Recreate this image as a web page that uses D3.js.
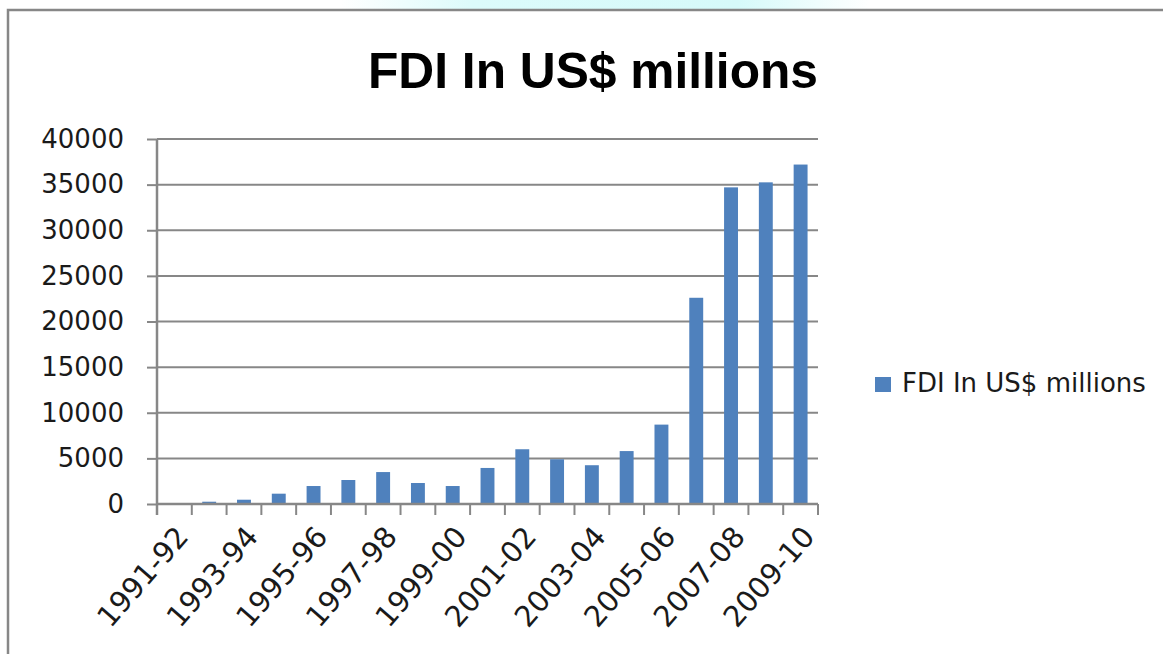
<!DOCTYPE html>
<html>
<head>
<meta charset="utf-8">
<script src="https://cdn.jsdelivr.net/npm/d3@7"></script>
<style>
  body { margin: 0; background: #fff; }
  svg { display: block; }
</style>
</head>
<body>
<script>
// Size of the page and plot area
const w = 1163;
const h = 654;
const plotLeft = 157, plotRight = 818, plotTop = 139, plotBottom = 504;

// Data
const years = [
  "1991-92", "1992-93", "1993-94", "1994-95", "1995-96", "1996-97", "1997-98",
  "1998-99", "1999-00", "2000-01", "2001-02", "2002-03", "2003-04", "2004-05",
  "2005-06", "2006-07", "2007-08", "2008-09", "2009-10",
];
const fdi = [
  100, 250, 470, 1130, 1970, 2630, 3500, 2300, 1970, 3950,
  6000, 4900, 4250, 5800, 8700, 22600, 34700, 35250, 37200,
];
const yTicks = [0, 5000, 10000, 15000, 20000, 25000, 30000, 35000, 40000];
const shownYears = years.filter((d, i) => i % 2 === 0);

const grey = "#878787";
const blue = "#4f81bd";

const svg = d3.select("body").append("svg").attr("width", w).attr("height", h);

// faint cyan strip above the frame
const grad = svg.append("defs").append("linearGradient").attr("id", "strip");
grad.append("stop").attr("offset", "0%").attr("stop-color", "#ffffff");
grad.append("stop").attr("offset", "25%").attr("stop-color", "#dcfbfb");
grad.append("stop").attr("offset", "75%").attr("stop-color", "#d6fafa");
grad.append("stop").attr("offset", "100%").attr("stop-color", "#ffffff");
svg.append("rect").attr("x", 340).attr("y", 0).attr("width", 530).attr("height", 9)
  .attr("fill", "url(#strip)");

// chart frame (top and left edges only visible)
svg.append("path")
  .attr("d", "M8,654 V10 H1163")
  .attr("fill", "none").attr("stroke", grey).attr("stroke-width", 2.5);

// Title
svg.append("text")
  .attr("x", 593).attr("y", 88)
  .attr("text-anchor", "middle")
  .attr("font-family", "Liberation Sans, Arial, sans-serif")
  .attr("font-weight", "bold")
  .attr("font-size", 50)
  .attr("textLength", 450)
  .attr("lengthAdjust", "spacingAndGlyphs")
  .attr("fill", "#000")
  .text("FDI In US$ millions");

// Scales
const x = d3.scaleBand().domain(years).range([plotLeft, plotRight])
  .paddingInner(0.6).paddingOuter(0.3);
const y = d3.scaleLinear().domain([0, 40000]).range([plotBottom, plotTop]);

// grid lines
svg.append("g")
  .selectAll("line")
  .data(yTicks.slice(1))
  .enter()
  .append("line")
  .attr("x1", plotLeft).attr("x2", plotRight)
  .attr("y1", d => y(d)).attr("y2", d => y(d))
  .attr("stroke", grey).attr("stroke-width", 2);

// y axis
const yAxis = svg.append("g")
  .attr("transform", `translate(${plotLeft},0)`)
  .call(d3.axisLeft(y).tickValues(yTicks).tickSize(10).tickPadding(23)
    .tickFormat(d3.format("d")));
yAxis.select(".domain").remove();
yAxis.selectAll(".tick line").attr("stroke", grey).attr("stroke-width", 2);
yAxis.selectAll("text")
  .attr("font-family", "DejaVu Sans, Verdana, sans-serif")
  .attr("font-size", 26)
  .attr("fill", "#1a1a1a");
svg.append("line")
  .attr("x1", plotLeft).attr("x2", plotLeft).attr("y1", plotTop).attr("y2", plotBottom + 11)
  .attr("stroke", grey).attr("stroke-width", 2.5);

// bars
svg.append("g")
  .selectAll("rect")
  .data(fdi)
  .enter()
  .append("rect")
  .attr("x", (d, i) => x(years[i]))
  .attr("y", d => y(d))
  .attr("width", x.bandwidth())
  .attr("height", d => y(0) - y(d))
  .attr("fill", blue);

// x axis line and ticks at category boundaries
svg.append("line")
  .attr("x1", plotLeft).attr("x2", plotRight).attr("y1", plotBottom).attr("y2", plotBottom)
  .attr("stroke", grey).attr("stroke-width", 2.5);
svg.append("g")
  .selectAll("line")
  .data(d3.range(years.length + 1))
  .enter()
  .append("line")
  .attr("x1", i => plotLeft + i * x.step()).attr("x2", i => plotLeft + i * x.step())
  .attr("y1", plotBottom).attr("y2", plotBottom + 11)
  .attr("stroke", grey).attr("stroke-width", 2);

// rotated year labels, every other one
svg.append("g")
  .selectAll("text")
  .data(shownYears)
  .enter()
  .append("text")
  .attr("transform", d => `translate(${x(d) + x.bandwidth() / 2 + 8},${plotBottom + 27}) rotate(-49)`)
  .attr("text-anchor", "end")
  .attr("dominant-baseline", "central")
  .attr("font-family", "DejaVu Sans, Verdana, sans-serif")
  .attr("font-size", 29)
  .attr("fill", "#1a1a1a")
  .text(d => d);

// legend
const legend = svg.append("g").attr("transform", "translate(875,377)");
legend.append("rect").attr("width", 16).attr("height", 15).attr("fill", blue);
legend.append("text")
  .attr("x", 27).attr("y", 15)
  .attr("font-family", "DejaVu Sans, Verdana, sans-serif")
  .attr("font-size", 26)
  .attr("fill", "#1a1a1a")
  .text("FDI In US$ millions");
</script>
</body>
</html>
